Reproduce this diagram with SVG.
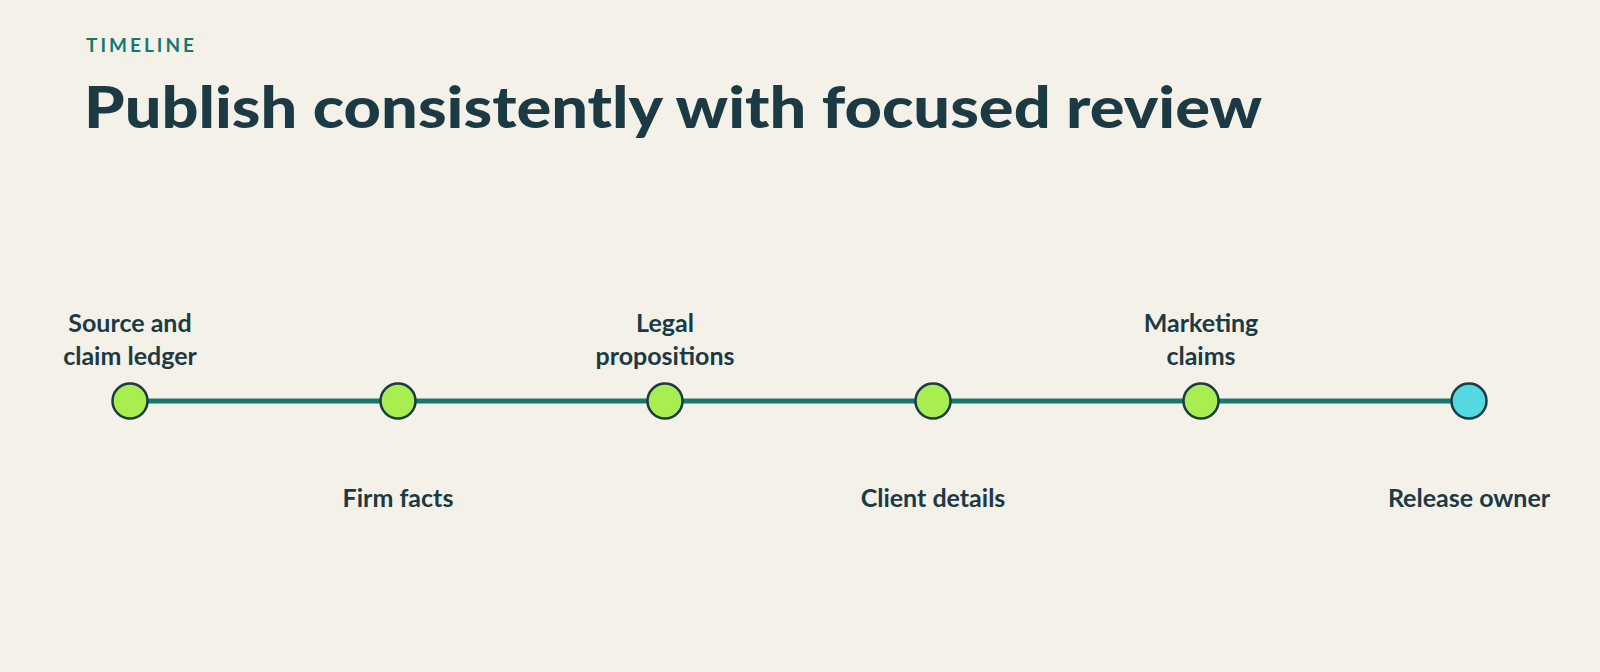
<svg xmlns="http://www.w3.org/2000/svg" width="1600" height="672" viewBox="0 0 1600 672">
<style>
.lbl{font-family:Lato,"Noto Sans",sans-serif;font-weight:700;font-size:25px;fill:#1B3A44;text-anchor:middle}
.dot{stroke:#1B3A44;stroke-width:2.5}
</style>
<rect width="1600" height="672" fill="#F4F1E9"/>
<text x="86" y="52" font-family="Lato,sans-serif" font-weight="700" font-size="19" letter-spacing="3" fill="#157A6E">TIMELINE</text>
<text x="84" y="128" font-family="Lato,sans-serif" font-weight="900" font-size="58" fill="#1B3A44" textLength="1178" lengthAdjust="spacingAndGlyphs">Publish consistently with focused review</text>
<g id="connectors"><line x1="130" y1="401" x2="1469" y2="401" stroke="#157A6E" stroke-width="5"/></g>
<g id="n1"><circle class="dot" cx="130" cy="401" r="17.5" fill="#A8EE50"/><text class="lbl" x="130" y="332">Source and</text><text class="lbl" x="130" y="365">claim ledger</text></g>
<g id="n2"><circle class="dot" cx="398" cy="401" r="17.5" fill="#A8EE50"/><text class="lbl" x="398" y="507">Firm facts</text></g>
<g id="n3"><circle class="dot" cx="665" cy="401" r="17.5" fill="#A8EE50"/><text class="lbl" x="665" y="332">Legal</text><text class="lbl" x="665" y="365">propositions</text></g>
<g id="n4"><circle class="dot" cx="933" cy="401" r="17.5" fill="#A8EE50"/><text class="lbl" x="933" y="507">Client details</text></g>
<g id="n5"><circle class="dot" cx="1201" cy="401" r="17.5" fill="#A8EE50"/><text class="lbl" x="1201" y="332">Marketing</text><text class="lbl" x="1201" y="365">claims</text></g>
<g id="n6"><circle class="dot" cx="1469" cy="401" r="17.5" fill="#55D9E0"/><text class="lbl" x="1469" y="507">Release owner</text></g>
</svg>
